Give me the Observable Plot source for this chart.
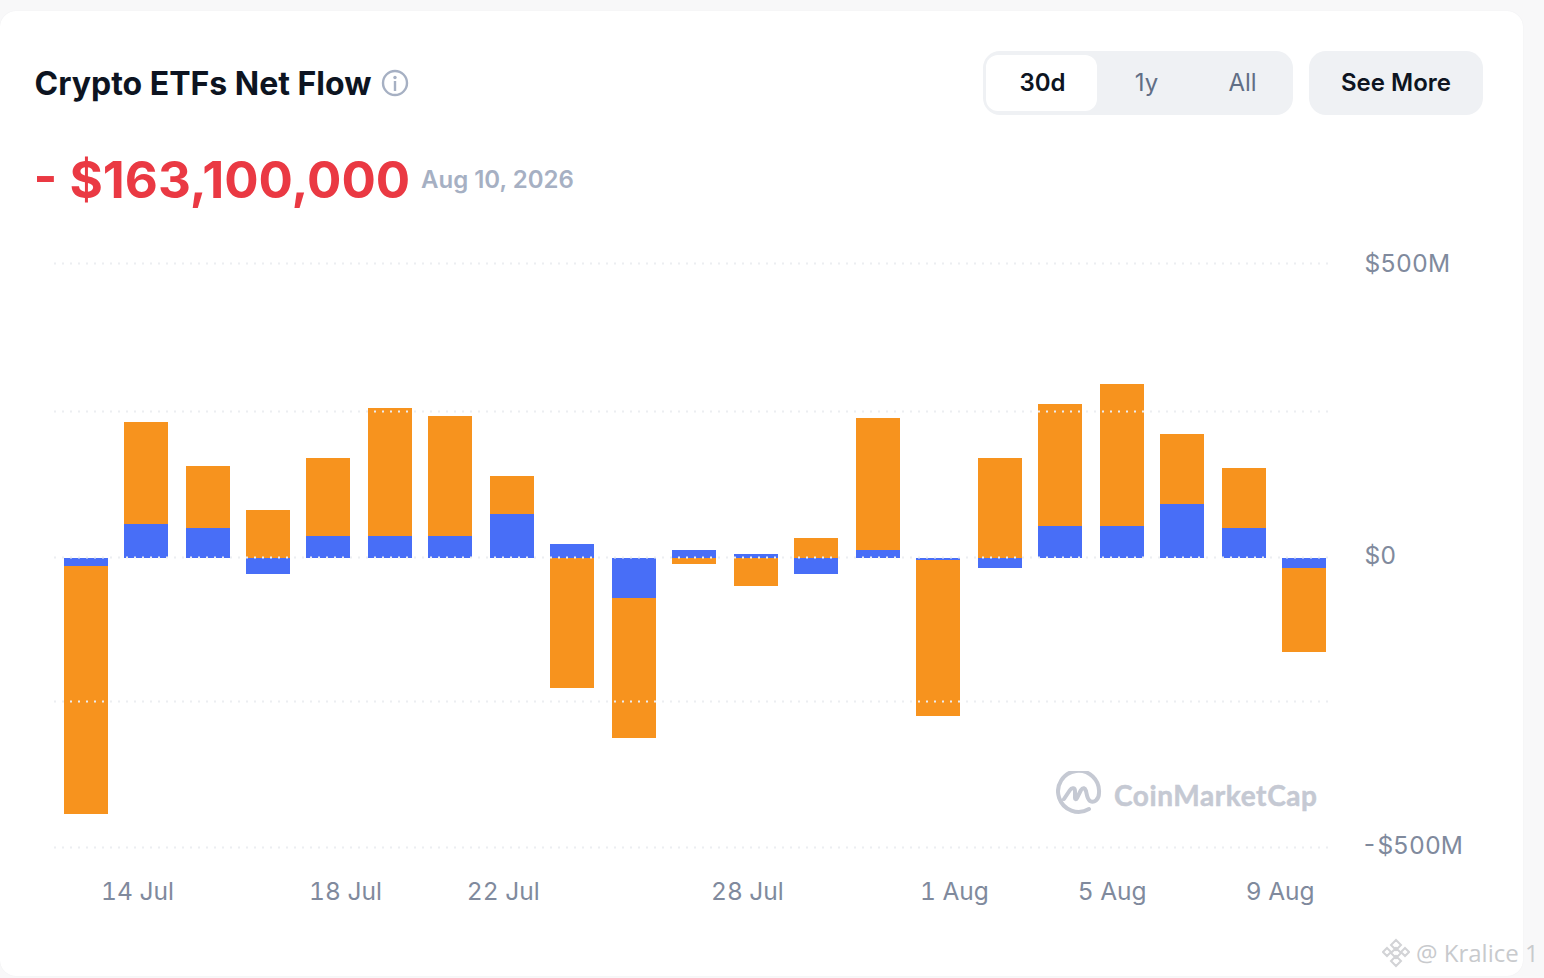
<!DOCTYPE html>
<html>
<head>
<meta charset="utf-8">
<script src="https://cdn.jsdelivr.net/npm/d3@7"></script>
<script src="https://cdn.jsdelivr.net/npm/@observablehq/plot@0.6"></script>
<style>
html,body{margin:0;padding:0;background:#f8f8f9;width:1544px;height:978px;overflow:hidden;font-family:Inter,sans-serif}
#card{position:absolute;left:0;top:11px;width:1523px;height:965px;background:#fff;border-radius:16px;box-shadow:0 0 1px #e8e9ec}
.t{position:absolute;white-space:nowrap;line-height:1}
.c{transform:translate(-50%,-50%)}
.l{transform:translateY(-50%)}
.box{position:absolute;background:#eff1f4}
#chart{position:absolute;left:0;top:230px}
#chart svg{display:block;background:transparent}
</style>
</head>
<body>
<div id="card"></div>
<div class="t l" style="left:34.500px;top:83.500px;font-size:32px;font-weight:700;color:#0d1421">Crypto ETFs Net Flow</div>
<svg style="position:absolute;left:381px;top:69px" width="28" height="28" viewBox="0 0 28 28" fill="none"><circle cx="14" cy="14" r="12" stroke="#a6b0c3" stroke-width="2.400"/><circle cx="14" cy="8.500" r="1.700" fill="#a6b0c3"/><rect x="12.800" y="12" width="2.400" height="10" fill="#a6b0c3"/></svg>
<div class="t l" style="left:33.500px;top:179px;font-size:51px;font-weight:700;color:#ea3943">- $163,100,000</div>
<div class="t l" style="left:421px;top:180px;font-size:24px;font-weight:600;color:#a6b0c3">Aug 10, 2026</div>
<div class="box" style="left:983px;top:51px;width:310px;height:64px;border-radius:17px"></div>
<div class="box" style="left:986px;top:55px;width:111px;height:56px;border-radius:12px;background:#fff"></div>
<div class="box" style="left:1309px;top:51px;width:174px;height:64px;border-radius:17px"></div>
<div class="t c" style="left:1042.500px;top:83px;font-size:24px;font-weight:600;color:#0d1421">30d</div>
<div class="t c" style="left:1146.500px;top:83px;font-size:24px;font-weight:400;color:#616e85">1y</div>
<div class="t c" style="left:1242.500px;top:83px;font-size:24px;font-weight:400;color:#616e85">All</div>
<div class="t c" style="left:1396px;top:83px;font-size:24px;font-weight:600;color:#0d1421">See More</div>
<div id="chart"></div>
<svg style="position:absolute;left:1056px;top:771px" width="46" height="46" viewBox="0 0 46 46" fill="none" stroke="#c5c9d3" stroke-width="4" stroke-linecap="round" stroke-linejoin="round"><path d="M33 38A20.500 20.500 0 1 1 43 22c0 7-5 10-9 8-3-2-3-6-4-10-1-3-3-4-5-1l-4 8c-1 2-2 1-2 0v-7c0-3-3-4-5-1l-6 9"/></svg>
<div class="t l" style="left:1114px;top:795px;font-family:Lato,sans-serif;font-size:28px;font-weight:700;color:#c5c9d3;letter-spacing:.6px;-webkit-text-stroke:.5px #c5c9d3">CoinMarketCap</div>
<svg style="position:absolute;left:1382px;top:938px" width="28" height="30" viewBox="0 0 28 30" fill="none" stroke="#d2d3d6" stroke-width="2"><path d="M14 2l5 5-5 5-5-5zM5 10l4 4-4 4-4-4zM23 10l4 4-4 4-4-4zM14 10l5 5-5 5-5-5zM14 18l5 5-5 5-5-5z"/></svg>
<div class="t l" style="left:1416px;top:953px;font-family:'Open Sans',sans-serif;font-size:24px;color:#c8cacd">@ Kralice 1</div>
<script>
const barPositions = [0,0.985,2.003,2.989,3.974,4.992,5.977,6.995,7.980,8.998,9.984,11.002,11.987,13.005,13.990,15.008,15.993,17.011,17.997,19.015,20];
const blueValues = [-14,58,51,-28,37,37,37,75,24,-70,14,7,-28,14,-3.5,-17.5,54.5,54.5,92,51,-17.5];
const orangeValues = [-430,173,105.5,82,133,218,204.5,64.5,-227,-243,-10.5,-49,34,224,-272.5,170,207.5,241.5,119,102,-146.5];
const tickPositions = [0.854,4.27,6.86,10.87,14.27,16.86,19.62];
const tickLabels = ["14 Jul","18 Jul","22 Jul","28 Jul","1 Aug","5 Aug","9 Aug"];
const gridValues = [-500,-250,250,500];
const zeroValue = [0];
const axisValues = [-500,0,500];
const axisLabels = ["-$500M","$0","$500M"];
const axisNudgeY = [-1,-2,1];
const axisNudgeX = [-3,0,0];

const rows = [];
barPositions.forEach((p,i)=>{
  rows.push({p,series:"blue",v:blueValues[i],c:"#486ef7"});
  rows.push({p,series:"orange",v:orangeValues[i],c:"#f7931e"});
});
const half = 0.3613;
const gridStyle = {stroke:"#eceef1",strokeWidth:2,strokeDasharray:"2 6"};

const plot = Plot.plot({
  width:1544, height:700,
  marginLeft:54, marginRight:214, marginTop:33, marginBottom:83,
  style:{fontFamily:"Inter, sans-serif",background:"transparent",overflow:"visible"},
  x:{type:"linear",domain:[-0.525,20.43]},
  y:{type:"linear",domain:[-500,-250,0,250,500],range:[617,471,328,181,33]},
  marks:[
    Plot.rectY(rows,{x1:d=>d.p-half,x2:d=>d.p+half,y:"v",z:"series",fill:"c",shapeRendering:"crispEdges",order:null}),
    Plot.ruleY(gridValues,gridStyle),
    Plot.ruleY(zeroValue,{...gridStyle,dy:-1}),
    ...axisValues.map((v,k)=>Plot.axisY({anchor:"right",ticks:[v],tickSize:0,tickPadding:34,textAnchor:"start",fontSize:24.5,dx:axisNudgeX[k],dy:axisNudgeY[k],color:"#808a9d",
      tickFormat:()=>axisLabels[k],label:null})),
    Plot.axisX({anchor:"bottom",ticks:tickPositions,tickSize:0,tickPadding:35,fontSize:24.5,dx:-1,color:"#808a9d",
      tickFormat:d=>tickLabels[tickPositions.indexOf(d)],label:null})
  ]
});
document.getElementById("chart").appendChild(plot);
</script>
</body>
</html>
